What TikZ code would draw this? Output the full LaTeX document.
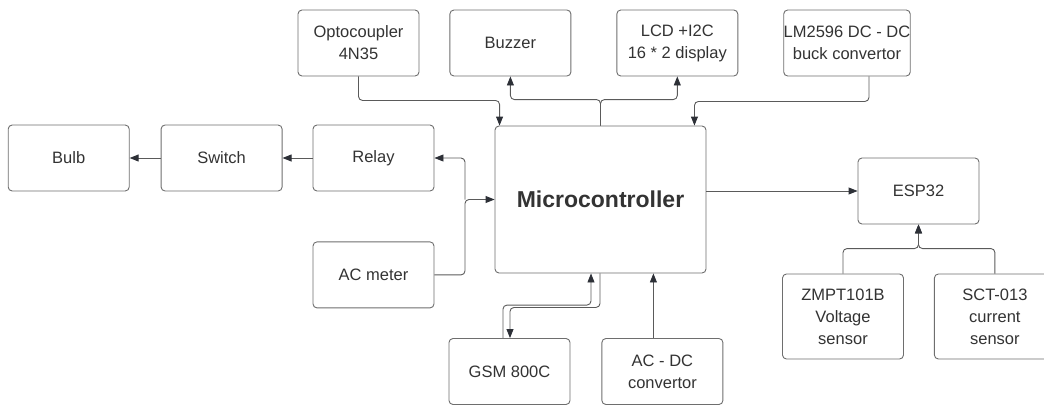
\documentclass[tikz,border=0pt]{standalone}
\usepackage{fontspec}
\setmainfont{Liberation Sans}
\usepackage{tikz}
\usetikzlibrary{arrows.meta, positioning, calc}
\definecolor{textgray}{RGB}{51, 51, 51}
\definecolor{boxgray}{RGB}{110, 110, 110}
\definecolor{linegray}{RGB}{90, 90, 90}
\definecolor{tipdark}{RGB}{45, 48, 55}
\tikzset{
    box/.style = {rectangle, draw=boxgray, fill=white, line width=0.9pt, rounded corners=4pt, minimum width=121pt, minimum height=66pt, inner sep=0pt, align=center, text=textgray, font=\fontsize{16.5}{22}\selectfont},
    tallbox/.style = {box, minimum height=85pt},
    mainbox/.style = {box, minimum width=211pt, minimum height=147pt, font=\fontsize{23}{28}\selectfont\bfseries},
    arrow/.style = {draw=linegray, line width=0.9pt, rounded corners=4pt, -{Triangle[length=9pt, width=7pt, color=tipdark]}},
    line/.style = {draw=linegray, line width=0.9pt, rounded corners=4pt, -}
}

\begin{document}
\begin{tikzpicture}[x=1pt, y=-1pt]
\useasboundingbox (0,0) rectangle (1044,405);
% Nodes
\node (mcu) [mainbox] at (600.5,199.5) {Microcontroller};

\node (opto) [box] at (358.5,43) {Optocoupler\\4N35};
\node (buz) [box, right=30pt of opto] {Buzzer};
\node (lcd) [box, right=45pt of buz] {LCD +I2C\\16 * 2 display};
\node (lm) [box, right=45pt of lcd] {LM2596 DC - DC\\buck convertor};

\node (relay) [box] at (373.5,158) {Relay};
\node (switch) [box, left=30pt of relay] {Switch};
\node (bulb) [box, left=31pt of switch] {Bulb};
\node (acm) [box, below=50pt of relay] {AC meter};

\node (gsm) [box] at (509.5,371.5) {GSM 800C};
\node (acdc) [box, right=31pt of gsm] {AC - DC\\convertor};

\node (esp) [box] at (918.5,191) {ESP32};
\node (zmpt) [tallbox] at (843,316.5) {ZMPT101B\\Voltage\\sensor};
\node (sct) [tallbox, right=30pt of zmpt] {SCT-013\\current\\sensor};

\coordinate (junc) at (465,199.5);

% Arrows
\draw [arrow] (opto.south) -- ++(0,24) -| ([xshift=5pt]mcu.north west);
\draw [arrow] (mcu.north) -- ++(0,-26) -| (buz.south);
\draw [arrow] (mcu.north) -- ++(0,-26) -| (lcd.south);
\draw [arrow] ([xshift=22pt]lm.south) -- ++(0,25) -| ([xshift=-12pt]mcu.north east);

\draw [arrow] (acm.east) -| (junc) -- (mcu.west);
\draw [arrow] (junc) |- (relay.east);
\draw [arrow] (relay) -- (switch);
\draw [arrow] (switch) -- (bulb);

\draw [arrow] ([xshift=-0.5pt]mcu.south) -- ++(0,34) -| ([xshift=0.5pt]gsm.north);
\draw [arrow] ([xshift=-6.5pt]gsm.north) -- ++(0,-33) -| ([xshift=-9.5pt]mcu.south);
\draw [arrow] ([xshift=-9pt]acdc.north) -- ([xshift=-9pt]acdc.north |- mcu.south);

\draw [arrow] (mcu.east |- esp.west) -- (esp.west);
\draw [arrow] (zmpt.north) -- ++(0,-25) -| (esp.south);
\draw [arrow] (sct.north) -- ++(0,-25) -| (esp.south);

\end{tikzpicture}
\end{document}
